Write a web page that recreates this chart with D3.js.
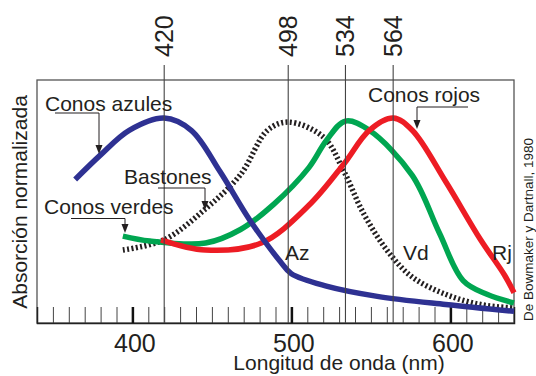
<!DOCTYPE html>
<html><head><meta charset="utf-8">
<script src="https://cdn.jsdelivr.net/npm/d3@7"></script>
<style>
html,body{margin:0;padding:0;background:#fff;}
svg{display:block;}
text{font-family:"Liberation Sans",Arial,sans-serif;fill:#231f20;}
</style></head>
<body>
<script>
// ---- data (wavelength nm, normalized absorption) ----
const blueNm  = [364, 380, 398, 420, 437, 455, 474, 493, 500, 522, 554, 597, 640];
const blueAbs = [0.70, 0.82, 0.94, 1.00, 0.94, 0.74, 0.50, 0.30, 0.24, 0.18, 0.13, 0.09, 0.057];

const greenNm  = [394, 411, 446, 468, 489, 511, 522, 534, 549, 576, 593, 608, 623, 640];
const greenAbs = [0.424, 0.40, 0.39, 0.456, 0.58, 0.758, 0.89, 0.985, 0.94, 0.72, 0.44, 0.207, 0.14, 0.098];

const redNm  = [418, 446, 481, 511, 533, 549, 564, 576, 597, 619, 634, 640];
const redAbs = [0.406, 0.356, 0.39, 0.574, 0.776, 0.94, 1.00, 0.94, 0.69, 0.406, 0.234, 0.148];

const rodNm  = [394, 420, 446, 468, 485, 498, 520, 533, 545, 560, 576, 597, 619, 640];
const rodAbs = [0.356, 0.406, 0.557, 0.724, 0.94, 0.98, 0.908, 0.74, 0.54, 0.356, 0.224, 0.14, 0.09, 0.073];

const peakNm = [420, 498, 534, 564];
const majorTicks = [400, 500, 600];
const minorTicks = [350,360,370,380,390,400,410,420,430,440,450,460,470,480,490,500,510,520,530,540,550,560,570,580,590,600,610,620,630];

const W = 536, H = 376;
const svg = d3.select("body").append("svg").attr("width", W).attr("height", H);

const x = d3.scaleLinear().domain([340, 640]).range([37, 514]);
const y = d3.scaleLinear().domain([0, 1]).range([323, 118]);

// frame
svg.append("rect").attr("x", 37).attr("y", 80).attr("width", 477).attr("height", 243)
  .attr("fill", "none").attr("stroke", "#555").attr("stroke-width", 1.3);

// minor ticks
const minorAxis = d3.axisBottom(x).tickValues(minorTicks).tickSize(-16).tickFormat("");
const gMinor = svg.append("g").attr("transform", "translate(0,323)").call(minorAxis);
gMinor.select(".domain").remove();
gMinor.selectAll("line").attr("stroke", "#444").attr("stroke-width", 1);

// major ticks with labels
const majorAxis = d3.axisBottom(x).tickValues(majorTicks).tickSize(-16).tickPadding(0).tickFormat(d3.format("d"));
const gMajor = svg.append("g").attr("transform", "translate(0,323)").call(majorAxis);
gMajor.select(".domain").attr("stroke", "#222").attr("stroke-width", 1.5);
gMajor.selectAll("line").attr("stroke", "#111").attr("stroke-width", 2.5);
gMajor.selectAll("text").attr("font-size", 25).attr("fill", "#231f20")
  .attr("font-family", "Liberation Sans, Arial, sans-serif")
  .attr("dy", null).attr("y", 29).attr("x", 2);

// curves
const line = d3.line().x(d => x(d[0])).y(d => y(d[1])).curve(d3.curveCatmullRom.alpha(0.5));
const series = [
  {nm: rodNm, v: rodAbs, color: "#231f20", dash: "2,2.4"},
  {nm: greenNm, v: greenAbs, color: "#00a651"},
  {nm: redNm, v: redAbs, color: "#ed1c24"},
  {nm: blueNm, v: blueAbs, color: "#2e3192"}
];
series.forEach(s => {
  svg.append("path").datum(d3.zip(s.nm, s.v)).attr("d", line)
    .attr("fill", "none").attr("stroke", s.color).attr("stroke-width", 5.5)
    .attr("stroke-dasharray", s.dash || null).attr("stroke-linecap", "butt").attr("stroke-linejoin", "round");
});

// peak reference lines
svg.selectAll(".peak").data(peakNm).enter().append("line")
  .attr("x1", d => x(d)).attr("x2", d => x(d)).attr("y1", 65).attr("y2", 323)
  .attr("stroke", "#444").attr("stroke-width", 1.1);
svg.selectAll(".peaklab").data(peakNm).enter().append("text")
  .attr("transform", d => `translate(${x(d)},57) rotate(-90)`)
  .attr("text-anchor", "start").attr("dominant-baseline", "central")
  .attr("font-size", 25).text(d => d);

// axis titles
svg.append("text").attr("x", 339).attr("y", 370).attr("text-anchor", "middle")
  .attr("font-size", 21).text("Longitud de onda (nm)");
svg.append("text").attr("transform", "translate(27,202) rotate(-90)").attr("text-anchor", "middle")
  .attr("font-size", 21).text("Absorción normalizada");
svg.append("text").attr("transform", "translate(533,321) rotate(-90)").attr("text-anchor", "start")
  .attr("font-size", 13.5).text("De Bowmaker y Dartnall, 1980");

// labels with leaders
const labels = [
  {t: "Conos azules", x: 45, y: 111, path: [[55,113],[99,113],[99,146]], tip: [99,154]},
  {t: "Conos rojos", x: 368, y: 102, path: [[468,107],[417,107],[417,121]], tip: [417,129]},
  {t: "Bastones", x: 124, y: 184, path: [[158,188],[205,188],[205,202]], tip: [205,210]},
  {t: "Conos verdes", x: 44, y: 214, path: [[71,218.5],[125,218.5],[125,225]], tip: [125,233]}
];
labels.forEach(l => {
  svg.append("text").attr("x", l.x).attr("y", l.y).attr("font-size", 21).text(l.t);
  svg.append("path").attr("d", d3.line()(l.path)).attr("fill", "none").attr("stroke", "#231f20").attr("stroke-width", 1);
  const [tx, ty] = l.tip;
  svg.append("path").attr("d", `M${tx-3.5},${ty-9}L${tx+3.5},${ty-9}L${tx},${ty}Z`).attr("fill", "#231f20");
});

const small = [{t: "Az", x: 285, y: 260}, {t: "Vd", x: 403, y: 260}, {t: "Rj", x: 492, y: 260}];
small.forEach(s => svg.append("text").attr("x", s.x).attr("y", s.y).attr("font-size", 21).text(s.t));
</script>
</body></html>
